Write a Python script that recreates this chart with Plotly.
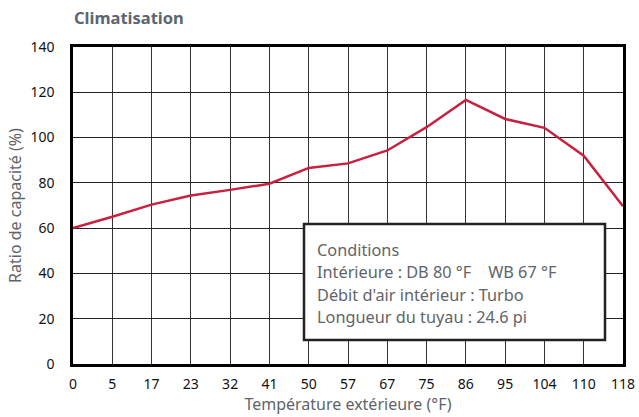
import plotly.graph_objects as go

temps = ["0", "5", "17", "23", "32", "41", "50", "57", "67", "75", "86", "95", "104", "110", "118"]
ratio = [60, 65, 70.4, 74.4, 76.9, 79.6, 86.6, 88.6, 94.3, 104.6, 116.6, 108.2, 104.3, 92, 69.7]
y_ticks = [0, 20, 40, 60, 80, 100, 120, 140]
cond_lines = ["Conditions", "Intérieure : DB 80 °F    WB 67 °F",
              "Débit d'air intérieur : Turbo", "Longueur du tuyau : 24.6 pi"]

FONT = "Noto Sans"
W, H = 639, 417
L, R, T, B = 73, 16, 47, 53
pw, ph = W - L - R, H - T - B

fig = go.Figure()
fig.add_trace(go.Scatter(x=temps, y=ratio, mode="lines",
                         line=dict(color="#c8203f", width=2.5), hoverinfo="skip",
                         showlegend=False))

def px(x):
    return (x - L) / pw

def py(y):
    return (H - B - y) / ph

shapes = [dict(type="rect", xref="paper", yref="paper",
               x0=px(304), x1=px(605), y0=py(340), y1=py(224),
               line=dict(color="#222222", width=2.5), fillcolor="white", layer="above")]

annotations = [dict(text="<b>Climatisation</b>", xref="paper", yref="paper",
                    x=px(72), y=py(18), xanchor="left", yanchor="middle", showarrow=False,
                    font=dict(family=FONT, size=16.5, color="#5b6670"))]
for t, yc in zip(cond_lines, [250, 272, 295, 317]):
    annotations.append(dict(text=t, xref="paper", yref="paper", x=px(315), y=py(yc),
                            xanchor="left", yanchor="middle", showarrow=False,
                            font=dict(family=FONT, size=16.3, color="#5f6469")))

fig.update_layout(
    width=W, height=H, margin=dict(l=L, r=R, t=T, b=B),
    paper_bgcolor="white", plot_bgcolor="white",
    shapes=shapes, annotations=annotations,
    font=dict(family=FONT, size=14, color="#111111"),
    xaxis=dict(type="category", range=[0, len(temps) - 1], showgrid=True, automargin=False,
               gridcolor="#333333", gridwidth=1, showline=True, linecolor="black",
               linewidth=2.5, mirror=True, ticks="", ticklabelstandoff=5,
               tickfont=dict(size=14, color="#111111"),
               title=dict(text="Température extérieure (°F)", standoff=2,
                          font=dict(size=16, color="#5f6469")), zeroline=False),
    yaxis=dict(range=[0, 140], tickvals=y_ticks, showgrid=True, gridcolor="#222222",
               gridwidth=1, showline=True, linecolor="black", linewidth=2.5, mirror=True,
               automargin=False, ticks="", ticklabelstandoff=13,
               tickfont=dict(size=14, color="#111111"),
               title=dict(text="Ratio de capacité (%)", standoff=5,
                          font=dict(size=16, color="#5f6469")), zeroline=False),
)

fig.write_html("out.html", config={"displayModeBar": False},
               post_script="document.body.style.margin='0';document.body.style.padding='0';")
